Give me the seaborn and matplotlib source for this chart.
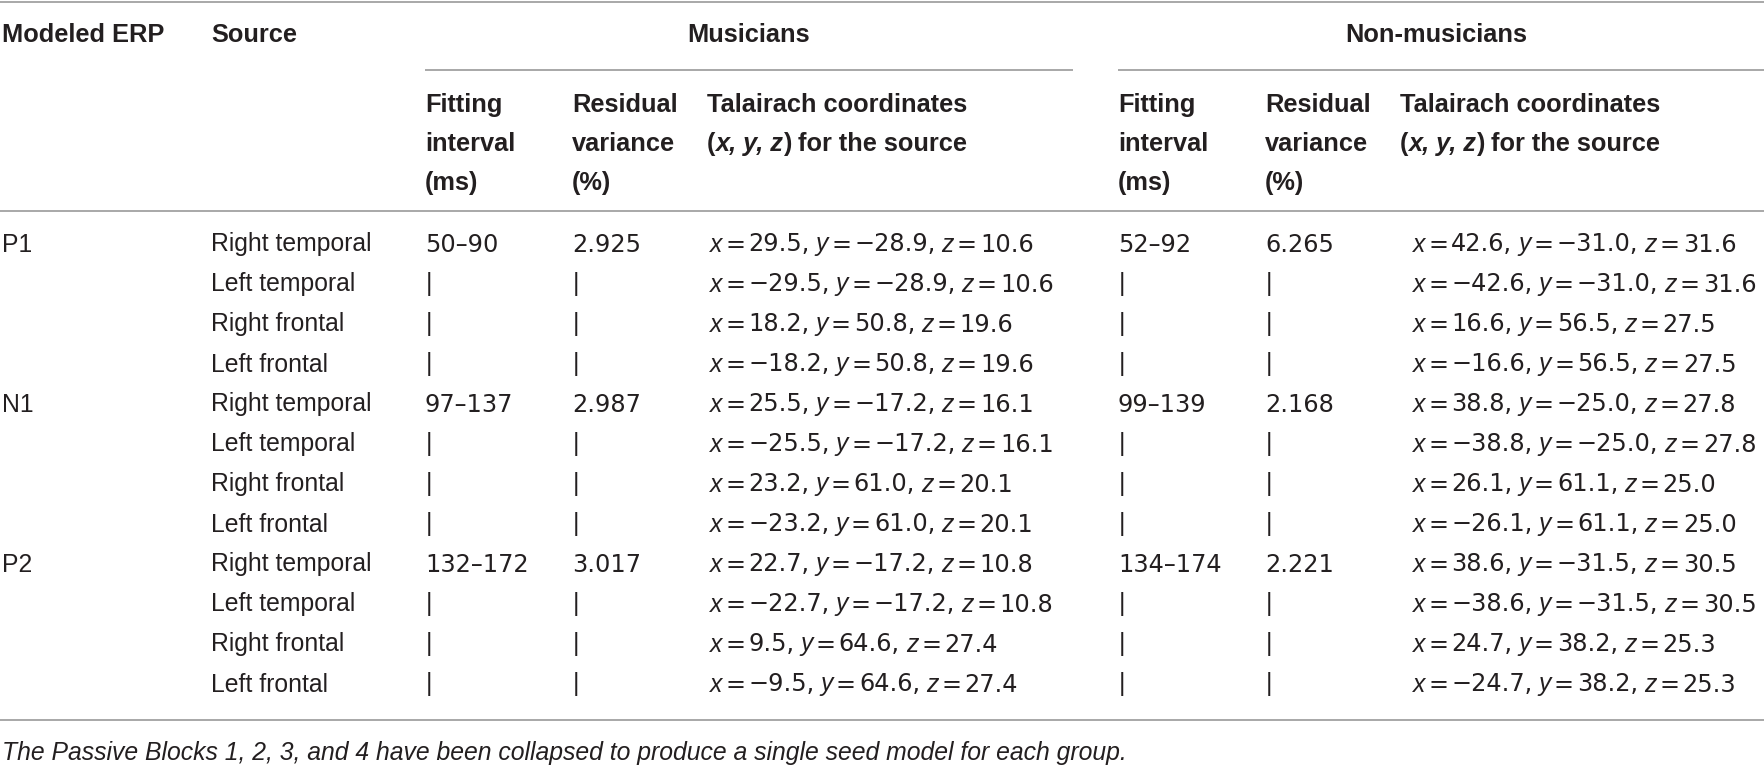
import matplotlib
matplotlib.use("Agg")
import matplotlib.pyplot as plt
import seaborn as sns
import pandas as pd

# ---------------- data ----------------
erp_labels = ["P1", "N1", "P2"]
sources = ["Right temporal", "Left temporal", "Right frontal", "Left frontal"]
groups = ["Musicians", "Non-musicians"]
mus_interval = ["50–90", "97–137", "132–172"]
mus_rv = ["2.925", "2.987", "3.017"]
nm_interval = ["52–92", "99–139", "134–174"]
nm_rv = ["6.265", "2.168", "2.221"]
mus_x = [29.5, -29.5, 18.2, -18.2, 25.5, -25.5, 23.2, -23.2, 22.7, -22.7, 9.5, -9.5]
mus_y = [-28.9, -28.9, 50.8, 50.8, -17.2, -17.2, 61.0, 61.0, -17.2, -17.2, 64.6, 64.6]
mus_z = [10.6, 10.6, 19.6, 19.6, 16.1, 16.1, 20.1, 20.1, 10.8, 10.8, 27.4, 27.4]
nm_x = [42.6, -42.6, 16.6, -16.6, 38.8, -38.8, 26.1, -26.1, 38.6, -38.6, 24.7, -24.7]
nm_y = [-31.0, -31.0, 56.5, 56.5, -25.0, -25.0, 61.1, 61.1, -31.5, -31.5, 38.2, 38.2]
nm_z = [31.6, 31.6, 27.5, 27.5, 27.8, 27.8, 25.0, 25.0, 30.5, 30.5, 25.3, 25.3]
col_headers = [["Fitting", "interval", "(ms)"], ["Residual", "variance", "(%)"]]
footnote = ("The Passive Blocks 1, 2, 3, and 4 have been collapsed to produce "
            "a single seed model for each group.")

# ---------------- style ----------------
sns.set_theme(style="white")
plt.rcParams["font.family"] = ["Liberation Sans", "DejaVu Sans"]
NUMFONT = ["DejaVu Sans"]

W, H = 1765, 767
fig = plt.figure(figsize=(W / 100, H / 100), dpi=100)
ax = fig.add_axes([0, 0, 1, 1])
ax.set_xlim(0, W)
ax.set_ylim(H, 0)
ax.axis("off")
renderer = fig.canvas.get_renderer()

TXT = "#231f20"
RULE = "#a8a8a8"
BODY = 17.8
NUM = 17.3
HEAD = 18.3
FOOT = 17.8


def fmt(v):
    return f"{v:.1f}".replace("-", "−")


def put(x, y, s, size=BODY, weight="normal", style="normal", ha="left", family=None):
    kw = {}
    if family is not None:
        kw["family"] = family
    return ax.text(x, y, s, fontsize=size, fontweight=weight, fontstyle=style,
                   ha=ha, va="baseline", color=TXT, **kw)


def runs(x, y, items, size=BODY, weight="normal"):
    for it in items:
        if isinstance(it, (int, float)):
            x += it
            continue
        s, st = it[0], it[1]
        fam = it[2] if len(it) > 2 else None
        sz = it[3] if len(it) > 3 else size
        t = put(x, y, s, size=sz, weight=weight, style=st, family=fam)
        x += t.get_window_extent(renderer).width
    return x


# rules
ax.hlines([1.5, 211, 720], 0, W, color=RULE, lw=1.4)
ax.hlines(70, 425, 1073, color=RULE, lw=1.4)
ax.hlines(70, 1118, W, color=RULE, lw=1.4)

# header row 1
put(2, 41.5, "Modeled ERP", size=HEAD, weight="bold")
put(211, 41.5, "Source", size=HEAD, weight="bold")
put(749, 41.5, groups[0], size=HEAD, weight="bold", ha="center")
put(1436, 41.5, groups[1], size=HEAD, weight="bold", ha="center")

# header row 2
hb = [112, 151, 190]
for gx in (0, 693):
    for cx, lines in zip([425 + gx, 572 + gx], col_headers):
        for yy, s in zip(hb, lines):
            put(cx, yy, s, size=HEAD, weight="bold")
    tx = 707 + gx
    put(tx, hb[0], "Talairach coordinates", size=HEAD, weight="bold")
    runs(tx, hb[1], [("(", "normal"), ("x, y, z", "italic"), 1, (")", "normal"), 5,
                     ("for the source", "normal")], size=HEAD, weight="bold")

# body
rows = []
for gi, e in enumerate(erp_labels):
    for si, s in enumerate(sources):
        rows.append(dict(erp=e if si == 0 else "", source=s,
                         mi=mus_interval[gi] if si == 0 else "|",
                         mr=mus_rv[gi] if si == 0 else "|",
                         ni=nm_interval[gi] if si == 0 else "|",
                         nr=nm_rv[gi] if si == 0 else "|"))
df = pd.DataFrame(rows)
df["mx"], df["my"], df["mz"] = mus_x, mus_y, mus_z
df["nx"], df["ny"], df["nz"] = nm_x, nm_y, nm_z


def coord_items(xv, yv, zv):
    g, c = 3, 6
    return [("x", "italic"), g, ("=", "normal", NUMFONT, NUM), g,
            (fmt(xv) + ",", "normal", NUMFONT, NUM), c,
            ("y", "italic"), g, ("=", "normal", NUMFONT, NUM), g,
            (fmt(yv) + ",", "normal", NUMFONT, NUM), c,
            ("z", "italic"), g, ("=", "normal", NUMFONT, NUM), g,
            (fmt(zv), "normal", NUMFONT, NUM)]


def cell(x, y, s):
    if s == "|":
        put(x + 1, y, s)
    else:
        put(x, y, s, size=NUM, family=NUMFONT)


for i, r in df.iterrows():
    yb = 251.5 + 40 * i
    if r.erp:
        put(2, yb, r.erp)
    put(211, yb, r.source)
    cell(425, yb, r.mi)
    cell(572, yb, r.mr)
    cell(1118, yb, r.ni)
    cell(1265, yb, r.nr)
    runs(710, yb, coord_items(r.mx, r.my, r.mz))
    runs(1413, yb, coord_items(r.nx, r.ny, r.nz))

put(2, 760, footnote, size=FOOT, style="italic")

fig.savefig("out.png", dpi=100)
